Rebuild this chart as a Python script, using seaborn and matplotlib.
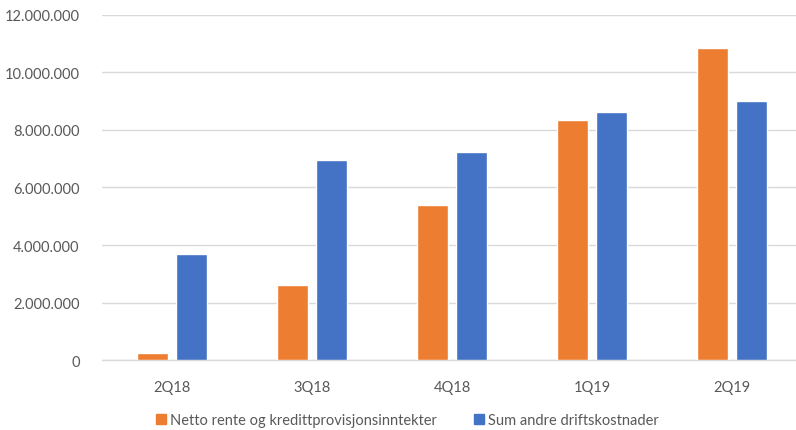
import numpy as np
import pandas as pd
import matplotlib
matplotlib.use("Agg")
import matplotlib.pyplot as plt
import matplotlib.ticker as mticker
import seaborn as sns

# data
quarters = ["2Q18", "3Q18", "4Q18", "1Q19", "2Q19"]
netto_rente = [260000, 2600000, 5400000, 8330000, 10830000]
sum_andre = [3680000, 6940000, 7220000, 8630000, 8990000]
series_names = ["Netto rente og kredittprovisjonsinntekter", "Sum andre driftskostnader"]
colors = ["#ED7D31", "#4472C4"]

df = pd.DataFrame({
    "kvartal": quarters * 2,
    "verdi": netto_rente + sum_andre,
    "serie": [series_names[0]] * len(quarters) + [series_names[1]] * len(quarters),
})

sns.set_style("white")
plt.rcParams["font.family"] = ["Lato", "DejaVu Sans"]
txt_col = "#595959"

fig = plt.figure(figsize=(7.96, 4.31), dpi=100)
ax = fig.add_axes([0.128, 0.1617, 0.872, 0.802])

sns.barplot(data=df, x="kvartal", y="verdi", hue="serie", order=quarters,
            hue_order=series_names, palette=colors, width=0.557, gap=0.2,
            saturation=1, ax=ax, legend=False, zorder=3)

ax.set_ylim(0, 12000000)
ax.set_xlim(-0.5, 4.457)
ax.yaxis.set_major_locator(mticker.MultipleLocator(2000000))
ax.yaxis.set_major_formatter(mticker.FuncFormatter(lambda v, p: f"{int(v):,}".replace(",", ".")))
ax.grid(axis="y", color="#d9d9d9", linewidth=1, zorder=0)
ax.set_axisbelow(True)
for s in ["top", "right", "left"]:
    ax.spines[s].set_visible(False)
ax.spines["bottom"].set_color("#d9d9d9")
ax.spines["bottom"].set_linewidth(1)
ax.tick_params(axis="both", length=0, colors=txt_col, labelsize=10.5)
ax.tick_params(axis="y", pad=16)
ax.tick_params(axis="x", pad=14)
ax.set_xlabel("")
ax.set_ylabel("")

handles = [plt.Line2D([], [], marker="s", linestyle="", markersize=7, color=c) for c in colors]
fig.legend(handles, series_names, loc="center", bbox_to_anchor=(0.51, 0.024), ncol=2,
           frameon=False, fontsize=10.5, labelcolor=txt_col, handletextpad=0.1,
           columnspacing=2.4, handlelength=1.0)

fig.savefig("out.png", dpi=100)
